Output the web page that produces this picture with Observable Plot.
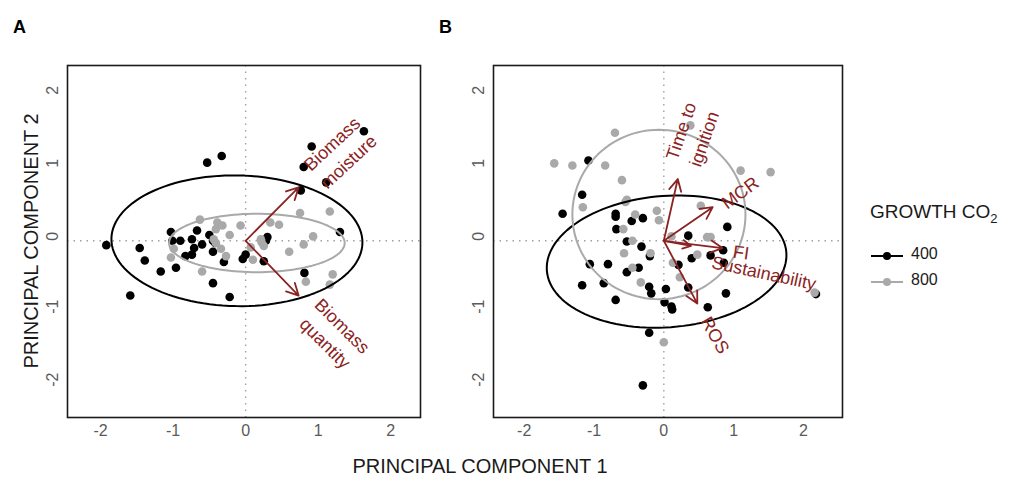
<!DOCTYPE html>
<html><head><meta charset="utf-8">
<script src="https://cdn.jsdelivr.net/npm/d3@7"></script>
<script src="https://cdn.jsdelivr.net/npm/@observablehq/plot@0.6"></script>
<style>
body{margin:0;background:#fff;font-family:"Liberation Sans",Arial,sans-serif;}
#wrap{position:relative;width:1013px;height:487px;overflow:hidden;background:#fff}
.abs{position:absolute;white-space:nowrap;line-height:1;color:#1a1a1a}
</style></head><body><div id="wrap"></div>
<script>
// ---------- DATA ----------
const xTicks = [-2, -1, 0, 1, 2];
const yTicks = [-2, -1, 0, 1, 2];
const groups = ["400", "800"];

// Panel A scores (PC1, PC2)
const scoresA_400 = [[1.63,1.50],[0.91,1.29],[0.80,1.01],[1.11,0.80],[0.76,0.69],[-0.33,1.16],[-0.53,1.07],[1.30,0.12],[-1.92,-0.06],[-1.46,-0.10],[-1.39,-0.27],[-1.17,-0.42],[-0.96,-0.37],[-1.59,-0.75],[-0.45,-0.58],[-0.22,-0.77],[0.81,-0.44],[0.25,-0.28],[0.30,0.05],[0.28,0.00],[-0.04,-0.25],[0.00,-0.19],[-0.30,-0.29],[-0.45,-0.15],[-0.50,0.08],[-0.45,0.00],[-0.42,-0.03],[-0.60,-0.05],[-0.67,0.14],[-0.74,0.02],[-0.71,-0.10],[-0.74,-0.19],[-0.83,-0.21],[-1.03,0.12],[-1.01,0.00],[-0.90,0.00]];
const scoresA_800 = [[-0.63,0.29],[-0.39,0.25],[-0.32,0.21],[-0.41,0.16],[-0.22,0.08],[-0.07,0.21],[-0.99,-0.11],[-1.03,-0.23],[-0.60,-0.42],[-0.44,0.02],[-0.41,-0.03],[-0.34,-0.11],[-0.27,-0.21],[0.07,-0.09],[0.10,-0.26],[0.21,0.02],[0.22,-0.02],[0.25,-0.07],[0.34,0.25],[0.46,0.22],[0.60,-0.15],[0.75,0.38],[0.80,-0.05],[0.93,0.06],[1.16,0.40],[1.20,-0.46],[0.83,-0.56],[1.16,-0.60]];
// ellipse: [cx, cy, rx, ry, angleDeg]
const ellipseA_400 = [-0.12, 0.00, 1.73, 0.895, -1];
const ellipseA_800 = [0.155, -0.03, 1.21, 0.40, 0];
const loadingsA_x = [0.73, 0.73];
const loadingsA_y = [0.73, -0.75];
const labelsA_text = ["Biomass\nmoisture", "Biomass\nquantity"];
const labelsA_x = [1.29, 1.23];
const labelsA_y = [1.22, -1.27];
const labelsA_rot = [-43, 45];

// Panel B scores
const scoresB_400 = [[-1.08,1.10],[-1.17,0.63],[-1.45,0.37],[-0.69,0.37],[-0.69,0.33],[-0.46,0.27],[-0.30,0.31],[-0.68,0.16],[-0.53,-0.01],[-0.32,-0.08],[-0.20,-0.21],[-1.06,-0.32],[-0.80,-0.32],[-0.53,-0.43],[-0.36,-0.37],[-1.17,-0.61],[-0.86,-0.58],[-0.69,-0.81],[-0.21,-0.63],[-0.18,-0.72],[0.03,-0.66],[0.01,-0.84],[0.11,-0.90],[0.12,-0.94],[0.21,-0.33],[0.35,-0.64],[0.40,-0.24],[0.35,0.07],[0.67,-0.20],[0.85,-0.13],[0.86,-0.30],[0.91,0.19],[0.89,-0.72],[0.63,-0.91],[-0.21,-1.26],[-0.30,-1.98],[2.18,-0.73]];
const scoresB_800 = [[-0.70,1.48],[0.38,1.58],[-1.57,1.06],[-1.31,1.03],[-0.84,1.03],[1.10,0.96],[1.53,0.94],[-0.60,0.83],[-0.53,0.56],[-0.55,0.53],[-1.16,0.46],[-0.41,0.36],[-0.10,0.41],[-0.07,0.28],[0.53,0.48],[-0.58,0.16],[-0.45,0.00],[-0.57,-0.17],[-0.19,-0.17],[0.11,0.06],[0.62,0.05],[0.67,0.05],[0.48,-0.19],[0.13,-0.30],[-0.45,-0.37],[0.23,-0.50],[-0.33,-0.57],[0.00,-1.39],[2.16,-0.71]];
const ellipseB_400 = [0.04, -0.285, 1.72, 0.90, 4];
const ellipseB_800 = [-0.07, 0.36, 1.24, 1.16, 0];
const loadingsB_x = [0.20, 0.70, 0.84, 0.39, 0.48];
const loadingsB_y = [0.845, 0.46, -0.10, -0.07, -0.86];
const labelsB_text = ["Time to\nignition", "MCR", "FI", "Sustainability", "ROS"];
const labelsB_x = [0.39, 1.08, 1.11, 1.44, 0.755];
const labelsB_y = [1.455, 0.675, -0.14, -0.42, -1.28];
const labelsB_rot = [-71, -36, 8, 12, 60];

// ---------- STYLE ----------
const RED = "#8B2323", GREY = "#a9a9a9", BLACK = "#000";
const FONT = "Liberation Sans, Arial, sans-serif";

function ellipsePts(e) {
  const [cx, cy, rx, ry, deg] = e, t = deg * Math.PI / 180;
  return d3.range(0, 361, 3).map(a => {
    const r = a * Math.PI / 180, u = rx * Math.cos(r), v = ry * Math.sin(r);
    return {x: cx + u * Math.cos(t) - v * Math.sin(t), y: cy + u * Math.sin(t) + v * Math.cos(t)};
  });
}

function panel({width, marginLeft, marginRight, xDomain, s400, s800, e400, e800, lx, ly, tx, ty, tt, tr}) {
  const loads = lx.map((x, i) => ({x, y: ly[i]}));
  const labs = tt.map((text, i) => ({text, x: tx[i], y: ty[i], r: tr[i]}));
  return Plot.plot({
    width, height: 487, marginTop: 65, marginBottom: 70, marginLeft, marginRight,
    x: {domain: xDomain, axis: null},
    y: {domain: [-2.42, 2.40], axis: null},
    style: {fontFamily: FONT, background: "transparent", overflow: "visible"},
    marks: [
      Plot.ruleX([0], {stroke: "#a0a0a0", strokeWidth: 1.4, strokeDasharray: "1.5,5"}),
      Plot.ruleY([0], {stroke: "#a0a0a0", strokeWidth: 1.4, strokeDasharray: "1.5,5"}),
      Plot.dot(s400, {x: d => d[0], y: d => d[1], r: 4.3, fill: BLACK}),
      Plot.dot(s800, {x: d => d[0], y: d => d[1], r: 4.3, fill: GREY}),
      Plot.line(ellipsePts(e400), {x: "x", y: "y", stroke: BLACK, strokeWidth: 2}),
      Plot.line(ellipsePts(e800), {x: "x", y: "y", stroke: GREY, strokeWidth: 2}),
      Plot.arrow(loads, {x1: () => 0, y1: () => 0, x2: "x", y2: "y", stroke: RED, strokeWidth: 1.8, headLength: 11, headAngle: 55}),
      Plot.text(labs, {x: "x", y: "y", text: "text", rotate: d => d.r, fill: RED, fontSize: 18, lineHeight: 1.35}),
      Plot.text(xTicks, {x: d => d, frameAnchor: "bottom", dy: 18, text: d => String(d), fill: "#5a5a5a", fontSize: 16}),
      Plot.text(yTicks, {y: d => d, frameAnchor: "left", dx: -15, rotate: -90, text: d => String(d), fill: "#5a5a5a", fontSize: 16}),
      Plot.frame({stroke: "#1a1a1a", strokeWidth: 1.6})
    ]
  });
}

const wrap = document.getElementById("wrap");
function place(el, left, top) {
  const d = document.createElement("div");
  d.style.position = "absolute"; d.style.left = left + "px"; d.style.top = top + "px";
  d.appendChild(el); wrap.appendChild(d);
}

place(panel({width: 430, marginLeft: 67, marginRight: 10, xDomain: [-2.455, 2.41],
  s400: scoresA_400, s800: scoresA_800, e400: ellipseA_400, e800: ellipseA_800,
  lx: loadingsA_x, ly: loadingsA_y, tx: labelsA_x, ty: labelsA_y, tt: labelsA_text, tr: labelsA_rot}), 0, 0);
place(panel({width: 420, marginLeft: 63, marginRight: 8, xDomain: [-2.44, 2.56],
  s400: scoresB_400, s800: scoresB_800, e400: ellipseB_400, e800: ellipseB_800,
  lx: loadingsB_x, ly: loadingsB_y, tx: labelsB_x, ty: labelsB_y, tt: labelsB_text, tr: labelsB_rot}), 430, 0);

function text(html, css) {
  const d = document.createElement("div");
  d.className = "abs"; d.innerHTML = html;
  Object.assign(d.style, css); wrap.appendChild(d); return d;
}
text("A", {left: "13px", top: "18px", fontSize: "18px", fontWeight: "bold", color: "#000"});
text("B", {left: "439px", top: "18px", fontSize: "18px", fontWeight: "bold", color: "#000"});
text("PRINCIPAL COMPONENT 1", {left: "480px", top: "456px", fontSize: "20px", transform: "translateX(-50%)"});
text("PRINCIPAL COMPONENT 2", {left: "31px", top: "241px", fontSize: "20px", transform: "translate(-50%,-50%) rotate(-90deg)"});

// Legend
text("GROWTH CO<sub style='font-size:13px;vertical-align:-5px'>2</sub>", {left: "870px", top: "202px", fontSize: "19px"});
const legendY = [254, 279.5];
const legendC = [BLACK, GREY];
groups.forEach((g, i) => {
  const ns = "http://www.w3.org/2000/svg";
  const svg = document.createElementNS(ns, "svg");
  svg.setAttribute("width", 40); svg.setAttribute("height", 12);
  svg.innerHTML = `<line x1="1" x2="33" y1="6" y2="6" stroke="${legendC[i]}" stroke-width="2"/><circle cx="17" cy="6" r="4" fill="${legendC[i]}"/>`;
  const d = document.createElement("div");
  d.style.position = "absolute"; d.style.left = "870px"; d.style.top = (legendY[i] - 6) + "px";
  d.appendChild(svg); wrap.appendChild(d);
  text(g, {left: "911px", top: (legendY[i] - 8) + "px", fontSize: "16px"});
});
</script>
</body></html>
